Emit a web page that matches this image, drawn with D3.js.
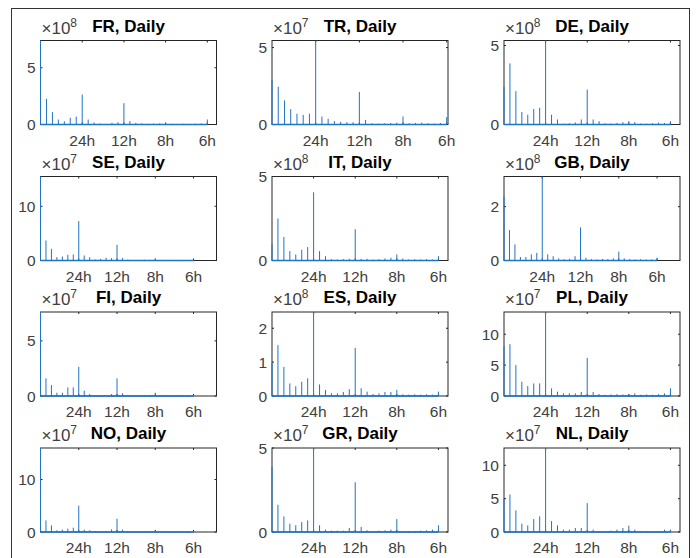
<!DOCTYPE html>
<html>
<head>
<meta charset="utf-8">
<script src="https://cdn.jsdelivr.net/npm/d3@7"></script>
<style>
  body { margin: 0; background: #fff; }
  svg { display: block; font-family: "Liberation Sans", Arial, sans-serif; }
</style>
</head>
<body>
<svg id="chart"></svg>
<script>
// panel order, row by row
const countries = ["FR", "TR", "DE", "SE", "IT", "GB", "FI", "ES", "PL", "NO", "GR", "NL"];
const exponents = [8, 7, 8, 7, 8, 8, 7, 8, 7, 7, 7, 7];
const yMax = [7.4, 5.46, 5.32, 15.5, 5.0, 3.12, 7.62, 2.48, 13.6, 16.0, 5.0, 12.6];
const xMax = [4.22, 4.03, 4.23, 4.6, 4.23, 4.6, 4.6, 4.23, 4.23, 4.6, 4.23, 4.23];
const yTicks = [[0, 5], [0, 5], [0, 5], [0, 10], [0, 5], [0, 2], [0, 5], [0, 1, 2], [0, 5, 10], [0, 10], [0, 5], [0, 5, 10]];

// x axis: cycles per day, labelled by period
const xTickValues = [1, 2, 3, 4];
const xTickLabels = ["24h", "12h", "8h", "6h"];

// weekly harmonics k (frequency k/7 cycles per day)
const harmonics = d3.range(0, 29);

// periodogram peak heights at each weekly harmonic (units of 10^exponent)
const frPeaks = [7.4, 2.26, 1.09, 0.44, 0.29, 0.59, 0.70, 2.64, 0.44, 0.18, 0.08, 0.05, 0.15, 0.2, 1.88, 0.3, 0.15, 0.1, 0.06, 0.08, 0.1, 0.1, 0.06, 0.05, 0.06, 0.05, 0.08, 0.1, 0.44];
const trPeaks = [2.88, 2.45, 1.57, 1.0, 0.70, 0.63, 0.70, 5.46, 0.52, 0.37, 0.22, 0.17, 0.15, 0.15, 2.12, 0.3, 0.08, 0.06, 0.08, 0.1, 0.12, 0.52, 0.08, 0.1, 0.12, 0.08, 0.06, 0.1, 0.48];
const dePeaks = [2.38, 3.87, 2.11, 0.79, 0.62, 0.98, 1.06, 5.32, 0.62, 0.32, 0.05, 0.08, 0.13, 0.32, 2.21, 0.32, 0.21, 0.08, 0.06, 0.1, 0.15, 0.21, 0.15, 0.06, 0.05, 0.08, 0.12, 0.1, 0.21];
const sePeaks = [15.5, 3.69, 2.15, 0.62, 0.74, 1.05, 1.1, 7.26, 0.92, 0.6, 0.2, 0.3, 0.5, 0.43, 2.89, 0.43, 0.15, 0.1, 0.12, 0.15, 0.1, 0.2, 0.1, 0.08, 0.1, 0.08, 0.06, 0.08, 0.1];
const itPeaks = [0.96, 2.5, 1.4, 0.56, 0.36, 0.64, 0.8, 4.06, 0.56, 0.26, 0.08, 0.06, 0.08, 0.1, 1.86, 0.1, 0.1, 0.06, 0.08, 0.12, 0.16, 0.36, 0.12, 0.06, 0.08, 0.06, 0.08, 0.06, 0.26];
const gbPeaks = [2.37, 1.13, 0.60, 0.13, 0.13, 0.23, 0.28, 3.12, 0.23, 0.16, 0.08, 0.05, 0.06, 0.16, 1.23, 0.1, 0.05, 0.04, 0.06, 0.05, 0.08, 0.33, 0.08, 0.05, 0.04, 0.05, 0.04, 0.04, 0.1];
const fiPeaks = [7.62, 1.6, 0.99, 0.3, 0.3, 0.78, 0.78, 2.65, 0.48, 0.18, 0.05, 0.06, 0.05, 0.18, 1.6, 0.24, 0.08, 0.06, 0.08, 0.1, 0.08, 0.3, 0.08, 0.06, 0.08, 0.06, 0.08, 0.06, 0.08];
const esPeaks = [0.96, 1.5, 0.86, 0.37, 0.29, 0.42, 0.52, 2.48, 0.34, 0.18, 0.08, 0.08, 0.12, 0.2, 1.42, 0.23, 0.13, 0.06, 0.08, 0.12, 0.12, 0.18, 0.05, 0.04, 0.05, 0.04, 0.05, 0.04, 0.13];
const plPeaks = [8.06, 8.39, 5.0, 2.31, 1.61, 2.04, 2.04, 13.6, 1.24, 0.7, 0.43, 0.43, 0.43, 0.65, 6.18, 0.65, 0.32, 0.2, 0.25, 0.3, 0.25, 0.32, 0.43, 0.2, 0.25, 0.2, 0.3, 0.43, 1.24];
const noPeaks = [16.0, 2.21, 1.26, 0.32, 0.44, 0.63, 0.82, 5.0, 0.44, 0.32, 0.1, 0.12, 0.15, 0.5, 2.53, 0.44, 0.12, 0.08, 0.1, 0.12, 0.1, 0.15, 0.1, 0.08, 0.1, 0.08, 0.1, 0.08, 0.1];
const grPeaks = [3.89, 1.62, 0.93, 0.49, 0.40, 0.59, 0.69, 5.0, 0.40, 0.14, 0.08, 0.08, 0.08, 0.24, 2.96, 0.3, 0.1, 0.06, 0.08, 0.1, 0.14, 0.77, 0.06, 0.05, 0.06, 0.08, 0.1, 0.14, 0.4];
const nlPeaks = [4.98, 5.63, 3.24, 1.25, 1.0, 1.94, 2.34, 12.6, 1.64, 1.0, 0.35, 0.35, 0.6, 0.6, 4.33, 0.35, 0.15, 0.15, 0.2, 0.35, 0.6, 0.95, 0.35, 0.15, 0.15, 0.12, 0.15, 0.35, 0.35];

const peaks = [frPeaks, trPeaks, dePeaks, sePeaks, itPeaks, gbPeaks, fiPeaks, esPeaks, plPeaks, noPeaks, grPeaks, nlPeaks];

const width = 696, height = 558;
const colLeft = [40.5, 272, 504];
const rowTop = [40.5, 176.5, 312, 448];
const pw = 176, ph = 84;
const axisColor = "#262626";
const lineColor = "#1f74c4";

const svg = d3.select("#chart")
    .attr("width", width)
    .attr("height", height)
    .attr("viewBox", [0, 0, width, height]);

svg.append("rect")
    .attr("x", 11.5).attr("y", 8.5)
    .attr("width", 678).attr("height", 560)
    .attr("fill", "none")
    .attr("stroke", "#333")
    .attr("stroke-width", 1);

countries.forEach((name, i) => {
    const x0 = colLeft[i % 3], y0 = rowTop[Math.floor(i / 3)];
    const g = svg.append("g").attr("transform", `translate(${x0},${y0})`);

    const x = d3.scaleLinear().domain([0, xMax[i]]).range([0, pw]);
    const y = d3.scaleLinear().domain([0, yMax[i]]).range([ph, 0]);

    // box
    g.append("rect")
        .attr("width", pw).attr("height", ph)
        .attr("fill", "none")
        .attr("stroke", axisColor)
        .attr("stroke-width", 1);

    // inward ticks, bottom and top
    g.selectAll(".xt").data(xTickValues).join("path")
        .attr("class", "xt")
        .attr("d", d => `M${x(d)},${ph}v-2M${x(d)},0v2`)
        .attr("fill", "none")
        .attr("stroke", axisColor);
    g.selectAll(".yt").data(yTicks[i]).join("path")
        .attr("class", "yt")
        .attr("d", d => `M0,${y(d)}h2M${pw},${y(d)}h-2`)
        .attr("fill", "none")
        .attr("stroke", axisColor);

    // data: baseline plus one spike per weekly harmonic
    const pts = harmonics.map((k, j) => ({ f: k / 7, v: peaks[i][j] }));
    g.append("line")
        .attr("x1", x(0)).attr("x2", x(pts[pts.length - 1].f))
        .attr("y1", y(0)).attr("y2", y(0))
        .attr("stroke", lineColor).attr("stroke-width", 1.6);
    g.selectAll(".spike").data(pts).join("line")
        .attr("class", "spike")
        .attr("x1", d => x(d.f)).attr("x2", d => x(d.f))
        .attr("y1", y(0)).attr("y2", d => y(d.v))
        .attr("stroke", lineColor)
        .attr("stroke-width", 1);

    // tick labels
    g.selectAll(".xl").data(xTickValues).join("text")
        .attr("class", "xl")
        .attr("x", d => x(d))
        .attr("y", ph + 21)
        .attr("text-anchor", "middle")
        .attr("fill", "#404040")
        .style("font-size", "15.5px")
        .text((d, j) => xTickLabels[j]);
    g.selectAll(".yl").data(yTicks[i]).join("text")
        .attr("class", "yl")
        .attr("x", -5)
        .attr("y", d => y(d))
        .attr("dy", "0.36em")
        .attr("text-anchor", "end")
        .attr("fill", "#404040")
        .style("font-size", "15.5px")
        .text(d => d);

    // exponent label
    const ex = g.append("text")
        .attr("x", 1).attr("y", -7)
        .attr("fill", "#404040")
        .style("font-size", "17px");
    ex.append("tspan").text("\u00d710");
    ex.append("tspan").attr("dy", -7).style("font-size", "12px").text(exponents[i]);

    // title
    g.append("text")
        .attr("x", pw / 2).attr("y", -9)
        .attr("text-anchor", "middle")
        .attr("fill", "#000")
        .style("font-size", "17px")
        .style("font-weight", "bold")
        .text(`${name}, Daily`);
});
</script>
</body>
</html>
